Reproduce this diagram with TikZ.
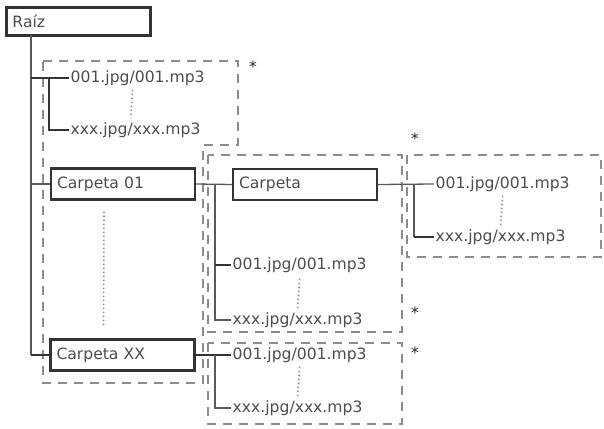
\documentclass[tikz,border=0pt]{standalone}
\usepackage{fontspec}
\newfontfamily\treefont{DejaVu Sans}
\usetikzlibrary{calc}

\tikzset{
  folder/.style={draw=black!80, line width=2.4pt, fill=white, text=black!70,
    text width=132pt, inner xsep=6pt, minimum height=31pt, align=left},
  file/.style={anchor=west, inner xsep=1.5pt, inner ysep=2pt, text=black!70},
  wire/.style={draw=black!65, line width=1.3pt},
  stub/.style={draw=black!80, line width=2.4pt},
  group/.style={draw=black!45, line width=2.6pt, dash pattern=on 9pt off 7pt},
  dots/.style={draw=black!45, line width=1.6pt, dash pattern=on 1.5pt off 2.5pt},
  star/.style={text=black!85, inner sep=0pt}
}

\begin{document}
\begin{tikzpicture}[x=1pt,y=-1pt,font=\treefont\fontsize{15.6}{18}\selectfont]
  \useasboundingbox (0,0) rectangle (604,428);

  % dashed groups
  \draw[group] (43,61) -- (238,61) -- (238,145) -- (203,145) -- (203,383) -- (43,383) -- cycle;
  \draw[group] (208,155) rectangle (402,332);
  \draw[group] (407,155) rectangle (601,257);
  \draw[group] (208,343) rectangle (402,424);
  \node[star] (star1) at (253,67) {*};
  \node[star] (star2) at (415,139) {*};
  \node[star] (star3) at (415,313) {*};
  \node[star] (star4) at (415,353) {*};

  % folders
  \node[folder, line width=3pt, minimum height=28pt] (raiz) at (78.5,21.5) {Raíz};
  \node[folder] (carpeta01) at (123,184) {Carpeta 01};
  \node[folder] (carpetaxx) at (122.5,355) {Carpeta XX};
  \node[folder] (carpeta) at (305,184.5) {Carpeta};

  % files
  \node[file] (rootfirst) at (69,78) {001.jpg/001.mp3};
  \node[file] (rootlast) at (69,130) {xxx.jpg/xxx.mp3};
  \node[file] (subfirst) at (231,265) {001.jpg/001.mp3};
  \node[file] (sublast) at (231,320) {xxx.jpg/xxx.mp3};
  \node[file] (innerfirst) at (434,184) {001.jpg/001.mp3};
  \node[file] (innerlast) at (434,237) {xxx.jpg/xxx.mp3};
  \node[file] (xxfirst) at (231,355) {001.jpg/001.mp3};
  \node[file] (xxlast) at (231,408) {xxx.jpg/xxx.mp3};

  \coordinate (trunk) at (31,35);
  \coordinate (rootbar) at (49,0);
  \coordinate (subbar) at (215,0);
  \coordinate (innerbar) at (414,0);

  % root level
  \draw[wire] (trunk) -- (trunk |- carpetaxx.west);
  \draw[stub] (trunk |- carpetaxx.west) -- (carpetaxx.west);
  \draw[wire] (trunk |- carpeta01.west) -- (carpeta01.west);
  \draw[stub] (trunk |- rootfirst.west) -- (rootfirst.west);
  \draw[stub] (rootbar |- rootfirst.west) |- (rootlast.west);

  % Carpeta 01
  \draw[wire] (carpeta01.east) -- (carpeta.west);
  \draw[wire] (subbar |- carpeta.west) |- (sublast.west);
  \draw[stub] (subbar |- subfirst.west) -- (subfirst.west);

  % Carpeta
  \draw[wire] (carpeta.east) -- (innerfirst.west);
  \draw[wire] (innerbar |- innerfirst.west) -- (innerbar |- innerlast.west);
  \draw[stub] (innerbar |- innerlast.west) -- (innerlast.west);

  % Carpeta XX
  \draw[stub] (carpetaxx.east) -- (xxfirst.west);
  \draw[wire] (subbar |- xxfirst.west) |- (xxlast.west);

  % elided entries
  \draw[dots] ([xshift=-5pt,yshift=-2pt]rootfirst.south) -- ([xshift=-5pt,yshift=2pt]rootlast.north);
  \draw[dots] ([xshift=-19pt,yshift=-11pt]carpeta01.south) -- ([xshift=-19pt,yshift=12pt]carpetaxx.north);
  \draw[dots] ([yshift=-4pt]subfirst.south) -- ([yshift=2pt]sublast.north);
  \draw[dots] ([yshift=-2pt]innerfirst.south) -- ([yshift=2pt]innerlast.north);
  \draw[dots] ([yshift=-2pt]xxfirst.south) -- ([yshift=2pt]xxlast.north);
\end{tikzpicture}
\end{document}
